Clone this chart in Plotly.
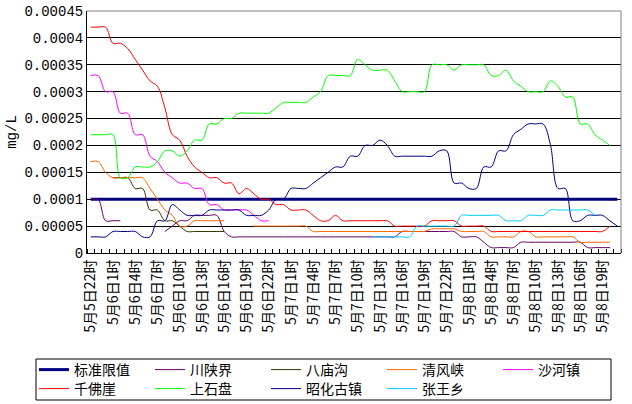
import plotly.graph_objects as go

categories = [
    "5月5日22时", "5月5日23时",
    "5月6日0时", "5月6日1时", "5月6日2时", "5月6日3时", "5月6日4时", "5月6日5时", "5月6日6时", "5月6日7时",
    "5月6日8时", "5月6日9时", "5月6日10时", "5月6日11时", "5月6日12时", "5月6日13时", "5月6日14时", "5月6日15时",
    "5月6日16时", "5月6日17时", "5月6日18时", "5月6日19时", "5月6日20时", "5月6日21时", "5月6日22时", "5月6日23时",
    "5月7日0时", "5月7日1时", "5月7日2时", "5月7日3时", "5月7日4时", "5月7日5时", "5月7日6时", "5月7日7时",
    "5月7日8时", "5月7日9时", "5月7日10时", "5月7日11时", "5月7日12时", "5月7日13时", "5月7日14时", "5月7日15时",
    "5月7日16时", "5月7日17时", "5月7日18时", "5月7日19时", "5月7日20时", "5月7日21时", "5月7日22时", "5月7日23时",
    "5月8日0时", "5月8日1时", "5月8日2时", "5月8日3时", "5月8日4时", "5月8日5时", "5月8日6时", "5月8日7时",
    "5月8日8时", "5月8日9时", "5月8日10时", "5月8日11时", "5月8日12时", "5月8日13时", "5月8日14时", "5月8日15时",
    "5月8日16时", "5月8日17时", "5月8日18时", "5月8日19时", "5月8日20时", "5月8日21时",
]

biaozhun = [
    0.0001, 0.0001, 0.0001, 0.0001, 0.0001, 0.0001, 0.0001, 0.0001, 0.0001, 0.0001, 0.0001, 0.0001,
    0.0001, 0.0001, 0.0001, 0.0001, 0.0001, 0.0001, 0.0001, 0.0001, 0.0001, 0.0001, 0.0001, 0.0001,
    0.0001, 0.0001, 0.0001, 0.0001, 0.0001, 0.0001, 0.0001, 0.0001, 0.0001, 0.0001, 0.0001, 0.0001,
    0.0001, 0.0001, 0.0001, 0.0001, 0.0001, 0.0001, 0.0001, 0.0001, 0.0001, 0.0001, 0.0001, 0.0001,
    0.0001, 0.0001, 0.0001, 0.0001, 0.0001, 0.0001, 0.0001, 0.0001, 0.0001, 0.0001, 0.0001, 0.0001,
    0.0001, 0.0001, 0.0001, 0.0001, 0.0001, 0.0001, 0.0001, 0.0001, 0.0001, 0.0001, 0.0001, 0.0001,
]

chuanshan = [
    0.0001, 0.0001, 0.00006, 0.00006, 0.00006, None, None, None, None, None,
    0.00004, 0.00005, 0.00006, 0.00006, 0.00007, 0.00007, 0.00007, 0.00007, 0.00004,
    0.00003, 0.00003, 0.00003, 0.00003, 0.00003, 0.00003, 0.00003, 0.00003, 0.00003, 0.00003,
    0.00003, 0.00003, 0.00003, 0.00003, 0.00003, 0.00003, 0.00003, 0.00003, 0.00003, 0.00003,
    0.00003, 0.00003, 0.00003,
    0.00004, 0.00004, 0.00004, 0.00004, 0.00004, 0.00004, 0.00004, 0.00004,
    0.00003, 0.00003, 0.00003, 0.00002, 0.00001, 0.00001, 0.00001, 0.00001,
    0.00002, 0.00002, 0.00002, 0.00002, 0.00002, 0.00002, 0.00002, 0.00002, 0.00002,
    0.00001, 0.00001, 0.00001, 0.00001,
]

bamiao = [
    None, None, None, 0.00014, 0.00014, 0.00014, 0.00012, 0.00012, 0.00008, 0.00008,
    0.00006, 0.00006, 0.00005, 0.00004, 0.00004, 0.00004, 0.00004, 0.00004, 0.00004,
] + [None] * 52

qingfeng = [
    0.00017, 0.00017, 0.00015, 0.00014, 0.00014, 0.00014, 0.00014, 0.00014,
    0.00012, 0.0001, 0.00008, 0.00007, 0.00005, 0.00005,
    0.00006, 0.00006, 0.00006, 0.00006, 0.00006, None, None, None,
    0.00005, 0.00005, 0.00005, 0.00005, 0.00005, 0.00005, 0.00005, 0.00005,
    0.00004, 0.00004, 0.00004, 0.00004, 0.00004, 0.00004, 0.00004, 0.00004,
    0.00004, 0.00004, 0.00004, 0.00004, 0.00004, 0.00004, 0.00004, 0.00004,
    0.000045, 0.000045, 0.000045, 0.000045,
    0.00004, 0.00004, 0.00004, 0.00004,
    0.00003, 0.00003, 0.00003, 0.00003, 0.00004, 0.00004,
    0.00003, 0.00003, 0.00003, 0.00003, 0.00003, 0.00003,
    0.00002, 0.00002, 0.00002, 0.00002, 0.00002,
]

shahe = [
    0.00033, 0.00033, 0.0003, 0.0003, 0.00026, 0.00026, 0.00022, 0.00022, 0.00018, 0.00017,
    0.00015, 0.00014, 0.00013, 0.00013, 0.00012, 0.00012, 0.00009, 0.00009, 0.00008, 0.00008,
    0.00008, 0.00008, 0.00007, 0.00006, 0.00006,
] + [None] * 46

qianfo = [
    0.00042, 0.00042, 0.00042, 0.00039, 0.00039, 0.00038, 0.00036, 0.00034, 0.00032, 0.00031,
    0.00027, 0.00022, 0.00021, 0.00018, 0.00016, 0.00015, 0.00014, 0.00014, 0.00013, 0.00013,
    0.00011, 0.00012, 0.00011, 0.0001, 0.0001, 0.00009, 0.00009, 0.00008, 0.00008, 0.00008,
    0.00007, 0.00006, 0.00006, 0.00007, 0.00006,
    0.00006, 0.00006, 0.00006, 0.00006, 0.00006, 0.00006,
    0.00005, 0.00005, 0.00005, 0.00005, 0.00005,
    0.00006, 0.00006, 0.00006, 0.00006,
    0.00005, 0.00005, 0.00005, 0.00005,
    0.00004, 0.00004, 0.00004, 0.00004, 0.00004, 0.00004, 0.00004, 0.00004,
    0.00004, 0.00004, 0.00004, 0.00004, 0.00004, 0.00004, 0.00004, 0.00004,
    0.00005,
]

shangshi = [
    0.00022, 0.00022, 0.00022, 0.00022, 0.00014, 0.00014, 0.00016, 0.00016, 0.00016, 0.00017,
    0.00019, 0.00019, 0.00018, 0.00019, 0.00021, 0.00021, 0.00024, 0.00024, 0.00025, 0.00025,
    0.00026, 0.00026, 0.00026, 0.00026, 0.00026, 0.00027, 0.00028, 0.00028, 0.00028, 0.00028,
    0.00029, 0.0003, 0.00033, 0.00033, 0.00033, 0.00033, 0.00036, 0.00035, 0.00034, 0.00034,
    0.00034, 0.00032, 0.0003, 0.0003, 0.0003, 0.0003, 0.00035, 0.00035, 0.00035, 0.00034,
    0.00035, 0.00035, 0.00035, 0.00035, 0.00033, 0.00033, 0.00034, 0.00032, 0.00031, 0.0003,
    0.0003, 0.0003, 0.00032, 0.00031, 0.00029, 0.00029, 0.00024, 0.00024, 0.00022, 0.00021,
    0.0002,
]

zhaohua = [
    0.00003, 0.00003, 0.00003, 0.00004, 0.00004, 0.00004, 0.00004, 0.00003, 0.00003, 0.00006,
    0.00006, 0.00009, 0.00008, 0.00007, 0.00007, 0.00007, 0.00008, 0.00008, 0.00008, 0.00008,
    0.00008, 0.00007, 0.00007, 0.00007, 0.00008, 0.0001, 0.0001, 0.00012, 0.00012, 0.00012,
    0.00013, 0.00014, 0.00015, 0.00016, 0.00016, 0.00018, 0.00018, 0.0002, 0.0002, 0.00021,
    0.0002, 0.00018, 0.00018, 0.00018, 0.00018, 0.00018, 0.00018, 0.00019, 0.00019, 0.00013,
    0.00013, 0.00012, 0.00012, 0.00016, 0.00016, 0.00019, 0.00019, 0.00022, 0.00023, 0.00024,
    0.00024, 0.00024, 0.0002, 0.00012, 0.00012, 0.00006, 0.00006, 0.00007, 0.00007, 0.00007,
    0.00006, 0.00005,
]

zhangwang = [None] * 38 + [
    0.00003, 0.00003, 0.00003, 0.00003, 0.00003, 0.00003,
    0.00005, 0.00005, 0.00005, 0.00005, 0.00005, 0.00005,
    0.00007, 0.00007, 0.00007, 0.00007, 0.00007, 0.00007,
    0.00006, 0.00006, 0.00006,
    0.00007, 0.00007, 0.00007,
    0.00008, 0.00008, 0.00008, 0.00008, 0.00008, 0.00008,
    0.00007, None, None,
]

y_tick_values = [0, 0.00005, 0.0001, 0.00015, 0.0002, 0.00025, 0.0003, 0.00035, 0.0004, 0.00045]
y_tick_labels = ["0", "0.00005", "0.0001", "0.00015", "0.0002", "0.00025", "0.0003", "0.00035", "0.0004", "0.00045"]

# (name, values, colour, width, legend row)
series = [
    ("标准限值", biaozhun, "#000080", 3, "legend"),
    ("川陕界", chuanshan, "#660066", 1, "legend"),
    ("八庙沟", bamiao, "#333300", 1, "legend"),
    ("清风峡", qingfeng, "#FF6600", 1, "legend"),
    ("沙河镇", shahe, "#FF00FF", 1, "legend"),
    ("千佛崖", qianfo, "#FF0000", 1, "legend2"),
    ("上石盘", shangshi, "#00FF00", 1, "legend2"),
    ("昭化古镇", zhaohua, "#000080", 1, "legend2"),
    ("张王乡", zhangwang, "#00CCFF", 1, "legend2"),
]

cjk = "Noto Sans CJK SC"
fig = go.Figure()
for name, vals, color, w, lg in series:
    fig.add_trace(go.Scatter(
        x=list(range(len(vals))), y=vals, name=name, mode="lines",
        line=dict(color=color, width=w, shape="spline", smoothing=1),
        connectgaps=False, legend=lg,
    ))

n = len(categories)
L, R, T, B = 87, 11, 11, 151
W, H = 632, 404
pw, ph = W - L - R, H - T - B


def px_x(x):
    return (x - L) / pw


def px_y(y):
    return (H - B - y) / ph


leg_common = dict(
    orientation="h", xanchor="left", yanchor="middle",
    borderwidth=0, bgcolor="rgba(0,0,0,0)",
    font=dict(family=cjk, size=14, color="black"),
    entrywidth=71, itemwidth=30, tracegroupgap=0,
)

fig.update_layout(
    width=W, height=H,
    margin=dict(l=L, r=R, t=T, b=B, autoexpand=False),
    paper_bgcolor="white", plot_bgcolor="white",
    font=dict(family=cjk, size=13, color="black"),
    showlegend=True,
    legend=dict(x=px_x(34), y=px_y(370), **leg_common),
    legend2=dict(x=px_x(34), y=px_y(389), **leg_common),
    xaxis=dict(
        range=[-0.5, n - 0.5],
        tickmode="array",
        tickvals=list(range(0, n, 3)),
        ticktext=categories[::3],
        tickangle=-90,
        ticks="",
        tickfont=dict(family=cjk, size=14),
        showline=True, linecolor="black", linewidth=1,
        showgrid=False, zeroline=False,
        minor=dict(ticks="inside", ticklen=4, tickcolor="black", tickwidth=1,
                   tickmode="linear", tick0=-0.5, dtick=1, showgrid=False),
    ),
    yaxis=dict(
        range=[0, 0.00045],
        tickmode="array",
        tickvals=y_tick_values,
        ticktext=y_tick_labels,
        tickfont=dict(family="Liberation Mono", size=14),
        ticks="",
        showgrid=True, gridcolor="black", gridwidth=1,
        showline=True, linecolor="black", linewidth=1,
        zeroline=False,
        title=dict(text="mg/L", font=dict(family="Liberation Mono", size=14), standoff=4),
    ),
    shapes=[
        dict(type="line", xref="paper", yref="paper", x0=0, x1=1, y0=1, y1=1,
             line=dict(color="#808080", width=1), layer="above"),
        dict(type="line", xref="paper", yref="paper", x0=1, x1=1, y0=0, y1=1,
             line=dict(color="#808080", width=1), layer="above"),
        dict(type="rect", xref="paper", yref="paper",
             x0=px_x(36), x1=px_x(611), y0=px_y(400), y1=px_y(359),
             line=dict(color="black", width=1), fillcolor="rgba(0,0,0,0)", layer="above"),
    ],
)

fig.write_html("out.html")
